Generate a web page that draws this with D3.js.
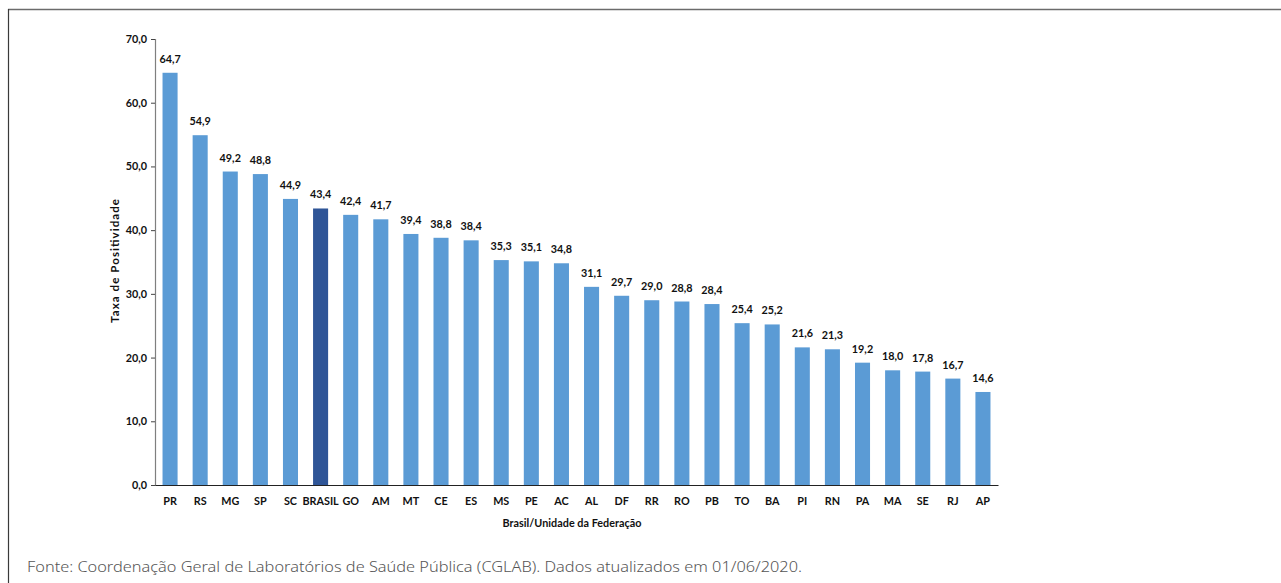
<!DOCTYPE html>
<html>
<head>
<meta charset="utf-8">
<script src="https://cdn.jsdelivr.net/npm/d3@7"></script>
<style>
  html, body { margin: 0; padding: 0; background: #fff; }
  svg { display: block; }
</style>
</head>
<body>
<script>
// Positivity rate by federative unit
const categories = ["PR","RS","MG","SP","SC","BRASIL","GO","AM","MT","CE","ES","MS","PE","AC","AL","DF","RR","RO","PB","TO","BA","PI","RN","PA","MA","SE","RJ","AP"];
const values = [64.7,54.9,49.2,48.8,44.9,43.4,42.4,41.7,39.4,38.8,38.4,35.3,35.1,34.8,31.1,29.7,29.0,28.8,28.4,25.4,25.2,21.6,21.3,19.2,18.0,17.8,16.7,14.6];
const yTicks = [0,10,20,30,40,50,60,70];
const highlight = "BRASIL";

const W = 1281, H = 583;
const fmt = v => d3.format(".1f")(v).replace(".", ",");
const font = "Lato, 'Noto Sans', sans-serif";

const svg = d3.select("body").append("svg").attr("width", W).attr("height", H);

// frame: top and left rules
svg.append("line").attr("x1", 8).attr("x2", W).attr("y1", 9.5).attr("y2", 9.5)
  .attr("stroke", "#6b6b6b").attr("stroke-width", 1.5);
svg.append("line").attr("x1", 8.5).attr("x2", 8.5).attr("y1", 9).attr("y2", H)
  .attr("stroke", "#3a3a3a").attr("stroke-width", 1.2);

const x = d3.scaleBand().domain(categories).range([155, 998]).paddingInner(0.5).paddingOuter(0.25);
const y = d3.scaleLinear().domain([0, 70]).range([485, 39]);

// bars
svg.append("g").selectAll("rect").data(categories).join("rect")
  .attr("x", d => x(d))
  .attr("width", x.bandwidth())
  .attr("y", (d, i) => y(values[i]))
  .attr("height", (d, i) => y(0) - y(values[i]))
  .attr("fill", d => d === highlight ? "#2F5597" : "#5B9BD5");

// value labels
svg.append("g").selectAll("text").data(categories).join("text")
  .attr("x", d => x(d) + x.bandwidth() / 2)
  .attr("y", (d, i) => y(values[i]) - 10)
  .attr("text-anchor", "middle")
  .attr("font-family", font).attr("font-weight", 700).attr("font-size", 10.8)
  .attr("fill", "#111")
  .text((d, i) => fmt(values[i]));

// y axis
const yAxis = svg.append("g").attr("transform", "translate(155,0)")
  .call(d3.axisLeft(y).tickValues(yTicks).tickFormat(fmt).tickSize(4).tickPadding(4));
yAxis.select(".domain").attr("stroke", "#7f7f7f").attr("stroke-width", 1.2);
yAxis.selectAll(".tick line").attr("stroke", "#444");
yAxis.selectAll("text").attr("font-family", font).attr("font-weight", 700)
  .attr("font-size", 10.8).attr("fill", "#111");

// x axis
const xAxis = svg.append("g").attr("transform", "translate(0,485)")
  .call(d3.axisBottom(x).tickSize(0).tickPadding(12));
xAxis.select(".domain").attr("stroke", "#222").attr("stroke-width", 1.2);
xAxis.selectAll("text").attr("font-family", font).attr("font-weight", 700)
  .attr("font-size", 10.8).attr("fill", "#111");

// axis titles
svg.append("text").attr("x", 572).attr("y", 527).attr("text-anchor", "middle")
  .attr("font-family", font).attr("font-weight", 700).attr("font-size", 10.8)
  .attr("fill", "#111")
  .attr("textLength", 139).attr("lengthAdjust", "spacing")
  .text("Brasil/Unidade  da Federação");
svg.append("text").attr("transform", "translate(119,261) rotate(-90)")
  .attr("text-anchor", "middle")
  .attr("font-family", font).attr("font-weight", 700).attr("font-size", 11.5)
  .attr("fill", "#111")
  .attr("textLength", 124).attr("lengthAdjust", "spacing")
  .text("Taxa de Positividade");

// source note
svg.append("text").attr("x", 27).attr("y", 572)
  .attr("font-family", "'Noto Sans', sans-serif").attr("font-weight", 300).attr("font-size", 14)
  .attr("fill", "#555")
  .attr("textLength", 775).attr("lengthAdjust", "spacingAndGlyphs")
  .text("Fonte: Coordenação Geral de Laboratórios de Saúde Pública (CGLAB). Dados atualizados em 01/06/2020.");
</script>
</body>
</html>
